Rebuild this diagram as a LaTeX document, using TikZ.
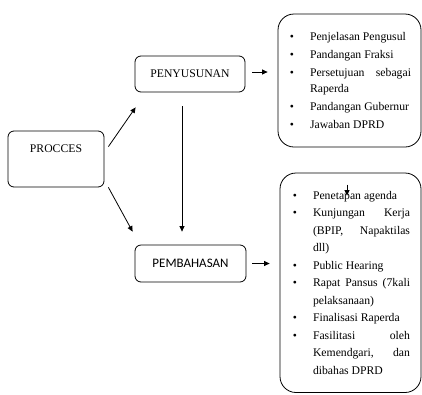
\documentclass[tikz,border=0pt]{standalone}
\usepackage{fontspec}
\setmainfont{Liberation Serif}
\newfontfamily\carlito{Carlito}
\usetikzlibrary{arrows.meta}
\newenvironment{poin}[1]{\begin{list}{\textbullet}{\setlength{\leftmargin}{22pt}\setlength{\labelsep}{16pt}\setlength{\labelwidth}{6pt}\setlength{\itemsep}{#1}\setlength{\parsep}{0pt}\setlength{\topsep}{0pt}\setlength{\partopsep}{0pt}}}{\end{list}}

\begin{document}
\begin{tikzpicture}[x=1pt,y=1pt,
kotak/.style={draw, line width=0.8pt, rounded corners=6pt, inner sep=0pt, font=\fontsize{11.7}{14}\selectfont},
daftar/.style={draw, line width=0.8pt, rounded corners=16pt, inner xsep=10pt, inner ysep=0pt},
panah/.style={line width=0.8pt, -{Triangle[length=5.5pt,width=5pt]}}]
\useasboundingbox (0,0) rectangle (422,-394);

\node[kotak, minimum width=96pt, minimum height=56pt] (procces) at (56,-159) {};
\node[anchor=north, font=\fontsize{11.7}{14}\selectfont] (proccestext) at ([yshift=-11pt]procces.north) {PROCCES};
\node[kotak, minimum width=110pt, minimum height=36pt] (penyusunan) at (190,-74) {PENYUSUNAN};
\node[kotak, minimum width=111pt, minimum height=37pt, font=\carlito\fontsize{13}{15}\selectfont] (pembahasan) at (190.5,-263.5) {PEMBAHASAN};

\node[daftar, minimum height=133pt, font=\fontsize{11.7}{15.5}\selectfont] (susunlist) at (349.5,-80.5) {\begin{minipage}{123pt}\hyphenpenalty=10000 \tolerance=9999
\begin{poin}{2.5pt}
\item Penjelasan Pengusul
\item Pandangan Fraksi
\item Persetujuan sebagai\linebreak Raperda
\item Pandangan Gubernur
\item Jawaban DPRD
\end{poin}\end{minipage}};

\node[daftar, inner xsep=11pt, minimum height=219.5pt, font=\fontsize{11.7}{17.5}\selectfont] (bahaslist) at (350.5,-282.75) {\begin{minipage}{119pt}\hyphenpenalty=10000 \tolerance=9999
\begin{poin}{0pt}
\item Penetapan agenda
\item Kunjungan Kerja\linebreak (BPIP, Napaktilas\linebreak dll)
\item Public Hearing
\item Rapat Pansus (7kali\linebreak pelaksanaan)
\item Finalisasi Raperda
\item Fasilitasi oleh\linebreak Kemendgari, dan\linebreak dibahas DPRD
\end{poin}\end{minipage}};

\draw[panah] ([xshift=4pt,yshift=-16pt]procces.north east) -- ([xshift=1pt,yshift=-15pt]penyusunan.south west);
\draw[panah] ([xshift=4pt]procces.south east) -- ([xshift=-2pt,yshift=13pt]pembahasan.north west);
\draw[panah] ([xshift=-8pt,yshift=-14pt]penyusunan.south) -- ([xshift=-8.5pt,yshift=13pt]pembahasan.north);
\draw[panah] ([xshift=7pt,yshift=2pt]penyusunan.east) -- ([xshift=-10pt,yshift=2pt]penyusunan.east -| susunlist.west);
\draw[panah] ([xshift=6pt]pembahasan.east) -- ([xshift=-10pt]pembahasan.east -| bahaslist.west);

\coordinate (sisip) at ([xshift=-3.5pt,yshift=-12pt]bahaslist.north);
\draw[panah] (sisip) -- ++(0,-11);
\end{tikzpicture}
\end{document}
